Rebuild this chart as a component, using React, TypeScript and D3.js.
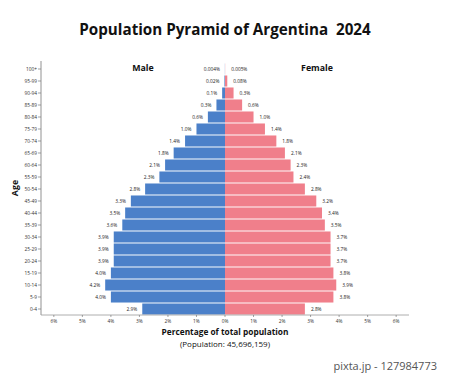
import React from "react";
import * as d3 from "d3";

const ageGroups = ["100+","95-99","90-94","85-89","80-84","75-79","70-74","65-69","60-64","55-59","50-54","45-49","40-44","35-39","30-34","25-29","20-24","15-19","10-14","5-9","0-4"];
const maleValues = [0.004,0.02,0.1,0.3,0.6,1.0,1.4,1.8,2.1,2.3,2.8,3.3,3.5,3.6,3.9,3.9,3.9,4.0,4.2,4.0,2.9];
const femaleValues = [0.005,0.08,0.3,0.6,1.0,1.4,1.8,2.1,2.3,2.4,2.8,3.2,3.4,3.5,3.7,3.7,3.7,3.8,3.9,3.8,2.8];
const maleLabels = ["0.004%","0.02%","0.1%","0.3%","0.6%","1.0%","1.4%","1.8%","2.1%","2.3%","2.8%","3.3%","3.5%","3.6%","3.9%","3.9%","3.9%","4.0%","4.2%","4.0%","2.9%"];
const femaleLabels = ["0.005%","0.08%","0.3%","0.6%","1.0%","1.4%","1.8%","2.1%","2.3%","2.4%","2.8%","3.2%","3.4%","3.5%","3.7%","3.7%","3.7%","3.8%","3.9%","3.8%","2.8%"];
const xTicks = [-6,-5,-4,-3,-2,-1,0,1,2,3,4,5,6];

const W = 450, H = 377;
const FONT = "'Open Sans', 'Noto Sans', sans-serif";

export default function App() {
  const x = d3.scaleLinear().domain([-6.45, 6.45]).range([41, 409]);
  const y = d3.scaleBand().domain(ageGroups).range([63, 315]).paddingInner(0.08).paddingOuter(0.04);
  const axisY = 315;
  const axisX = 41;
  return (
    <svg width={W} height={H} style={{ position: "absolute", left: 0, top: 0, background: "#fff" }} fontFamily={FONT}>
      <text x={225} y={35} textAnchor="middle" fontSize={15.2} fontWeight={700} fill="#111" style={{ whiteSpace: "pre" }}>Population Pyramid of Argentina  2024</text>
      <text x={143} y={71} textAnchor="middle" fontSize={8.8} fontWeight={700} fill="#111">Male</text>
      <text x={317} y={71} textAnchor="middle" fontSize={8.8} fontWeight={700} fill="#111">Female</text>
      {ageGroups.map((g, i) => (
        <g key={g}>
          <rect x={x(-maleValues[i])} y={y(g)!} width={x(0) - x(-maleValues[i])} height={y.bandwidth()} fill="#4b80c9" />
          <rect x={x(0)} y={y(g)!} width={x(femaleValues[i]) - x(0)} height={y.bandwidth()} fill="#f07f8b" />
          <text x={x(-maleValues[i]) - 5} y={y(g)! + y.bandwidth() / 2 + 1.7} textAnchor="end" fontSize={4.8} fill="#222">{maleLabels[i]}</text>
          <text x={x(femaleValues[i]) + 6} y={y(g)! + y.bandwidth() / 2 + 1.7} textAnchor="start" fontSize={4.8} fill="#222">{femaleLabels[i]}</text>
          <line x1={axisX - 3} x2={axisX} y1={y(g)! + y.bandwidth() / 2} y2={y(g)! + y.bandwidth() / 2} stroke="#666" strokeWidth={0.6} />
          <text x={axisX - 4} y={y(g)! + y.bandwidth() / 2 + 1.7} textAnchor="end" fontSize={4.8} fill="#333">{g}</text>
        </g>
      ))}
      <line x1={axisX} x2={axisX} y1={61} y2={axisY} stroke="#777" strokeWidth={0.8} />
      <line x1={axisX} x2={409} y1={axisY} y2={axisY} stroke="#999" strokeWidth={0.8} />
      {xTicks.map((t) => (
        <g key={t}>
          <line x1={x(t)} x2={x(t)} y1={axisY} y2={axisY + 2} stroke="#666" strokeWidth={0.6} />
          <text x={x(t)} y={axisY + 7.5} textAnchor="middle" fontSize={4.8} fill="#333">{Math.abs(t)}%</text>
        </g>
      ))}
      <text transform="translate(18,188) rotate(-90)" textAnchor="middle" fontSize={8.8} fontWeight={700} fill="#111">Age</text>
      <text x={225} y={335} textAnchor="middle" fontSize={8.3} fontWeight={700} fill="#111">Percentage of total population</text>
      <text x={225} y={347} textAnchor="middle" fontSize={8} fill="#111">(Population: 45,696,159)</text>
      <text x={437} y={370} textAnchor="end" fontSize={11} fill="#555">pixta.jp - 127984773</text>
    </svg>
  );
}
